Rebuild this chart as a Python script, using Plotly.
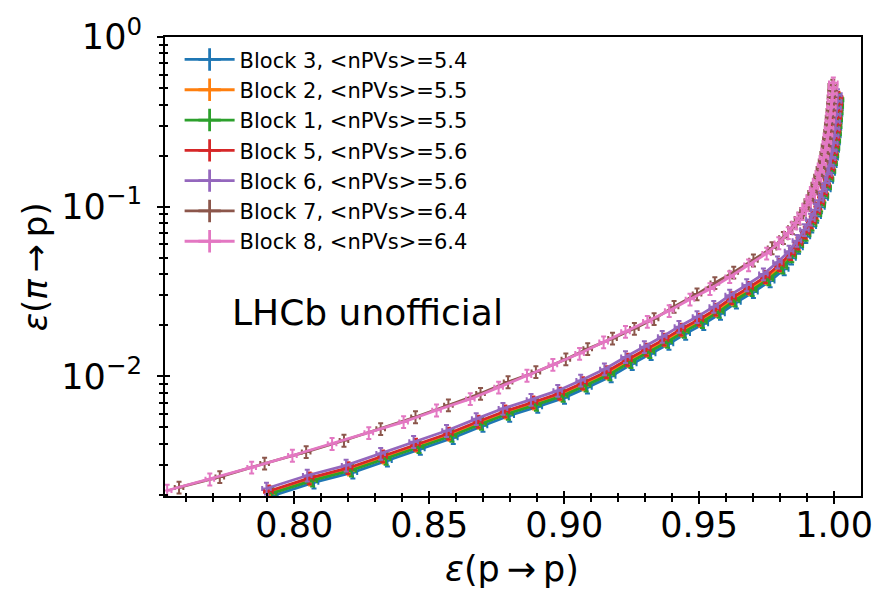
import plotly.graph_objects as go

# ---------------- data ----------------
names = ["Block 3, <nPVs>=5.4", "Block 2, <nPVs>=5.5", "Block 1, <nPVs>=5.5",
         "Block 5, <nPVs>=5.6", "Block 6, <nPVs>=5.6", "Block 7, <nPVs>=6.4",
         "Block 8, <nPVs>=6.4"]
colors = ["#1f77b4", "#ff7f0e", "#2ca02c", "#d62728", "#9467bd", "#8c564b", "#e377c2"]

# Block 3 (blue)
b3_x = [0.7922, 0.8073, 0.8217, 0.8345, 0.8467, 0.8589, 0.8699, 0.8798, 0.8902, 0.9001,
        0.9086, 0.9174, 0.9252, 0.9322, 0.9388, 0.9450, 0.9517, 0.9579, 0.9638, 0.9701,
        0.9763, 0.9815, 0.9842, 0.9868, 0.9895, 0.9917, 0.9935, 0.9949, 0.9961, 0.9971,
        0.9980, 0.9987, 0.9993, 0.9998, 1.0002, 1.0005, 1.0008, 1.0010, 1.0012, 1.0014,
        1.0016, 1.0017]
b3_y = [0.00198, 0.00237, 0.00271, 0.00319, 0.00374, 0.00434, 0.00511, 0.00587, 0.00662, 0.00748,
        0.00860, 0.01001, 0.01183, 0.01356, 0.01556, 0.01784, 0.02038, 0.02339, 0.02730, 0.03140,
        0.03640, 0.0428, 0.0496, 0.0573, 0.0664, 0.0764, 0.0874, 0.0992, 0.1119, 0.1256,
        0.1411, 0.1574, 0.1747, 0.1938, 0.2148, 0.2375, 0.2621, 0.2885, 0.3167, 0.3476,
        0.3804, 0.4150]

# Block 2 (orange)
b2_x = [0.7910, 0.8061, 0.8205, 0.8333, 0.8455, 0.8577, 0.8687, 0.8786, 0.8890, 0.8989,
        0.9074, 0.9162, 0.9240, 0.9310, 0.9376, 0.9438, 0.9505, 0.9567, 0.9626, 0.9689,
        0.9751, 0.9803, 0.9840, 0.9867, 0.9894, 0.9916, 0.9934, 0.9948, 0.9960, 0.9970,
        0.9979, 0.9986, 0.9992, 0.9997, 1.0001, 1.0004, 1.0007, 1.0009, 1.0011, 1.0013,
        1.0015, 1.0016]
b2_y = [0.00207, 0.00247, 0.00283, 0.00333, 0.00390, 0.00453, 0.00533, 0.00613, 0.00692, 0.00781,
        0.00898, 0.01045, 0.01235, 0.01416, 0.01625, 0.01862, 0.02128, 0.02442, 0.02850, 0.03278,
        0.03800, 0.0447, 0.0518, 0.0599, 0.0694, 0.0798, 0.0912, 0.1036, 0.1169, 0.1311,
        0.1473, 0.1644, 0.1824, 0.2024, 0.2242, 0.2480, 0.2736, 0.3012, 0.3306, 0.3629,
        0.3971, 0.4332]

# Block 1 (green)
b1_x = [0.7917, 0.8068, 0.8212, 0.8340, 0.8462, 0.8584, 0.8694, 0.8793, 0.8897, 0.8996,
        0.9081, 0.9169, 0.9247, 0.9317, 0.9383, 0.9445, 0.9512, 0.9574, 0.9633, 0.9696,
        0.9758, 0.9810, 0.9843, 0.9869, 0.9896, 0.9918, 0.9936, 0.9950, 0.9962, 0.9972,
        0.9981, 0.9988, 0.9994, 0.9999, 1.0003, 1.0006, 1.0009, 1.0011, 1.0013, 1.0015,
        1.0017, 1.0018]
b1_y = [0.00204, 0.00243, 0.00279, 0.00327, 0.00384, 0.00446, 0.00525, 0.00603, 0.00681, 0.00769,
        0.00884, 0.01029, 0.01216, 0.01393, 0.01599, 0.01833, 0.02094, 0.02403, 0.02805, 0.03226,
        0.03740, 0.0439, 0.0510, 0.0589, 0.0683, 0.0785, 0.0898, 0.1019, 0.1150, 0.1290,
        0.1449, 0.1618, 0.1795, 0.1992, 0.2207, 0.2440, 0.2693, 0.2964, 0.3254, 0.3572,
        0.3908, 0.4264]

# Block 5 (red)
b5_x = [0.7904, 0.8055, 0.8199, 0.8327, 0.8449, 0.8571, 0.8681, 0.8780, 0.8884, 0.8983,
        0.9068, 0.9156, 0.9234, 0.9304, 0.9370, 0.9432, 0.9499, 0.9561, 0.9620, 0.9683,
        0.9745, 0.9797, 0.9838, 0.9866, 0.9893, 0.9915, 0.9932, 0.9946, 0.9958, 0.9968,
        0.9977, 0.9984, 0.9990, 0.9995, 0.9999, 1.0002, 1.0005, 1.0007, 1.0009, 1.0011,
        1.0013, 1.0014]
b5_y = [0.00210, 0.00251, 0.00288, 0.00338, 0.00397, 0.00460, 0.00541, 0.00622, 0.00703, 0.00793,
        0.00912, 0.01062, 0.01255, 0.01438, 0.01650, 0.01891, 0.02162, 0.02480, 0.02895, 0.03329,
        0.03860, 0.0454, 0.0526, 0.0608, 0.0704, 0.0811, 0.0926, 0.1052, 0.1187, 0.1332,
        0.1496, 0.1669, 0.1853, 0.2055, 0.2277, 0.2519, 0.2779, 0.3059, 0.3358, 0.3686,
        0.4034, 0.4400]

# Block 6 (purple)
b6_x = [0.7897, 0.8048, 0.8192, 0.8320, 0.8442, 0.8564, 0.8674, 0.8773, 0.8877, 0.8976,
        0.9061, 0.9149, 0.9227, 0.9297, 0.9363, 0.9425, 0.9492, 0.9554, 0.9613, 0.9676,
        0.9738, 0.9790, 0.9833, 0.9862, 0.9890, 0.9912, 0.9930, 0.9944, 0.9956, 0.9966,
        0.9975, 0.9982, 0.9988, 0.9993, 0.9997, 1.0000, 1.0003, 1.0005, 1.0007, 1.0009,
        1.0011, 1.0012]
b6_y = [0.00218, 0.00260, 0.00298, 0.00350, 0.00411, 0.00477, 0.00561, 0.00645, 0.00728, 0.00822,
        0.00945, 0.01100, 0.01300, 0.01490, 0.01710, 0.01960, 0.02240, 0.02570, 0.03000, 0.03450,
        0.04000, 0.0470, 0.0545, 0.0630, 0.0730, 0.0840, 0.0960, 0.1090, 0.1230, 0.1380,
        0.1550, 0.1730, 0.1920, 0.2130, 0.2360, 0.2610, 0.2880, 0.3170, 0.3480, 0.3820,
        0.4180, 0.4560]

# Block 7 (brown)
b7_x = [0.7573, 0.7724, 0.7890, 0.8044, 0.8184, 0.8320, 0.8449, 0.8571, 0.8690, 0.8792,
        0.8895, 0.9006, 0.9087, 0.9179, 0.9260, 0.9333, 0.9407, 0.9492, 0.9558, 0.9628,
        0.9701, 0.9770, 0.9812, 0.9845, 0.9870, 0.9890, 0.9906, 0.9920, 0.9932, 0.9942,
        0.9951, 0.9959, 0.9965, 0.9970, 0.9975, 0.9979, 0.9982, 0.9985, 0.9988, 0.9990,
        0.9992, 0.9994, 0.9995]
b7_y = [0.00221, 0.00255, 0.00306, 0.00358, 0.00418, 0.00490, 0.00575, 0.00675, 0.00790, 0.00925,
        0.01060, 0.01260, 0.01450, 0.01670, 0.01910, 0.02180, 0.02570, 0.03050, 0.03550, 0.04100,
        0.04830, 0.0570, 0.0655, 0.0750, 0.0852, 0.0962, 0.1082, 0.1212, 0.1355, 0.1510,
        0.1675, 0.1855, 0.2055, 0.2275, 0.2515, 0.2775, 0.3055, 0.3360, 0.3690, 0.4045,
        0.4425, 0.4825, 0.5180]

# Block 8 (pink)
b8_x = [0.7529, 0.7687, 0.7842, 0.7993, 0.8140, 0.8276, 0.8405, 0.8527, 0.8652, 0.8757,
        0.8862, 0.8958, 0.9057, 0.9146, 0.9227, 0.9308, 0.9389, 0.9466, 0.9540, 0.9613,
        0.9683, 0.9750, 0.9795, 0.9830, 0.9858, 0.9880, 0.9898, 0.9913, 0.9926, 0.9937,
        0.9947, 0.9955, 0.9962, 0.9968, 0.9973, 0.9977, 0.9981, 0.9984, 0.9987, 0.9990,
        0.9992, 0.9994, 0.9996, 0.9997]
b8_y = [0.00212, 0.00247, 0.00290, 0.00341, 0.00400, 0.00464, 0.00538, 0.00630, 0.00735, 0.00860,
        0.01010, 0.01170, 0.01360, 0.01590, 0.01830, 0.02100, 0.02430, 0.02840, 0.03270, 0.03850,
        0.04520, 0.0530, 0.0610, 0.0700, 0.0800, 0.0905, 0.1020, 0.1145, 0.1280, 0.1430,
        0.1590, 0.1760, 0.1950, 0.2160, 0.2390, 0.2640, 0.2910, 0.3200, 0.3520, 0.3860,
        0.4230, 0.4620, 0.5030, 0.5350]

series_x = [b3_x, b2_x, b1_x, b5_x, b6_x, b7_x, b8_x]
series_y = [b3_y, b2_y, b1_y, b5_y, b6_y, b7_y, b8_y]

err_x_abs = 0.0016      # horizontal uncertainty
err_y_pct = 8           # vertical uncertainty, percent

x_ticks = [0.80, 0.85, 0.90, 0.95, 1.00]
x_ticklabels = ["0.80", "0.85", "0.90", "0.95", "1.00"]
y_ticks = [0.01, 0.1, 1.0]
y_ticklabels = ["10<sup>\u22122</sup>", "10<sup>\u22121</sup>", "10<sup>0</sup>"]
y_minor = [0.002, 0.003, 0.004, 0.005, 0.006, 0.007, 0.008, 0.009,
           0.02, 0.03, 0.04, 0.05, 0.06, 0.07, 0.08, 0.09,
           0.2, 0.3, 0.4, 0.5, 0.6, 0.7, 0.8, 0.9]

x_range = [0.7521, 1.00995]
y_range_log = [-2.706, 0.0]

FONT = "DejaVu Sans"

fig = go.Figure()

# data traces
for xs, ys, c, n in zip(series_x, series_y, colors, names):
    fig.add_trace(go.Scatter(
        x=xs, y=ys, mode="lines", name=n, showlegend=False,
        line=dict(color=c, width=2.8),
        error_x=dict(type="constant", value=err_x_abs, color=c, thickness=2, width=2.5),
        error_y=dict(type="percent", value=err_y_pct, color=c, thickness=2, width=2.5),
    ))

# legend entries
for i, (c, n) in enumerate(zip(colors, names)):
    fig.add_trace(go.Scatter(
        x=[None], y=[None], mode="lines+markers", name=n, legendgroup=f"g{i}",
        line=dict(color=c, width=2.8),
        marker=dict(symbol="cross-thin", size=16, color=c, line=dict(color=c, width=2.8)),
    ))

# carrier for the overlay axes (inner tick marks)
fig.add_trace(go.Scatter(x=[None], y=[None], xaxis="x2", yaxis="y2",
                         showlegend=False, hoverinfo="skip"))

fig.update_layout(
    width=885, height=590,
    margin=dict(l=165, r=20, t=32, b=94),
    paper_bgcolor="white", plot_bgcolor="white",
    font=dict(family=FONT, color="black"),
    showlegend=True,
    legend=dict(x=0.021, y=0.995, xanchor="left", yanchor="top",
                bgcolor="rgba(0,0,0,0)", borderwidth=0,
                font=dict(family=FONT, size=21, color="black"),
                tracegroupgap=0, itemwidth=50),
    xaxis=dict(range=x_range, showgrid=False, zeroline=False,
               showline=True, linecolor="black", linewidth=2, mirror=True,
               tickmode="array", tickvals=x_ticks, ticktext=x_ticklabels,
               ticks="outside", ticklen=6, tickwidth=2, tickcolor="black",
               tickfont=dict(family=FONT, size=35, color="black"),
               ticklabelstandoff=-9,
               minor=dict(ticks="outside", ticklen=4, tickwidth=1.6, tickcolor="black",
                          dtick=0.01, tick0=0.75, showgrid=False)),
    yaxis=dict(type="log", range=y_range_log, showgrid=False, zeroline=False,
               showline=True, linecolor="black", linewidth=2, mirror=True,
               tickmode="array", tickvals=y_ticks, ticktext=y_ticklabels,
               ticks="outside", ticklen=6, tickwidth=2, tickcolor="black",
               tickfont=dict(family=FONT, size=35, color="black"),
               ticklabelstandoff=8,
               minor=dict(ticks="outside", ticklen=4, tickwidth=1.6, tickcolor="black",
                          tickmode="array", tickvals=y_minor, showgrid=False)),
    xaxis2=dict(overlaying="x", anchor="y2", side="bottom", range=x_range,
                showgrid=False, zeroline=False, showline=False, showticklabels=False,
                tickmode="array", tickvals=x_ticks,
                ticks="inside", ticklen=5, tickwidth=2, tickcolor="black",
                minor=dict(ticks="inside", ticklen=3, tickwidth=1.6, tickcolor="black",
                           dtick=0.01, tick0=0.75, showgrid=False)),
    yaxis2=dict(overlaying="y", anchor="x2", side="left", type="log", range=y_range_log,
                showgrid=False, zeroline=False, showline=False, showticklabels=False,
                tickmode="array", tickvals=y_ticks,
                ticks="inside", ticklen=5, tickwidth=2, tickcolor="black",
                minor=dict(ticks="inside", ticklen=3, tickwidth=1.6, tickcolor="black",
                           tickmode="array", tickvals=y_minor, showgrid=False)),
)

# axis titles and label
fig.add_annotation(text="<i>\u03b5</i>(p\u2009\u2192\u2009p)", xref="paper", yref="paper",
                   x=0.4986, y=-0.158, xanchor="center", yanchor="middle",
                   showarrow=False, font=dict(family=FONT, size=35, color="black"))
fig.add_annotation(text="<i>\u03b5</i>(<i>\u03c0</i>\u2009\u2192\u2009p)", xref="paper", yref="paper",
                   x=-0.187, y=0.5, xanchor="center", yanchor="middle", textangle=-90,
                   showarrow=False, font=dict(family=FONT, size=34, color="black"))
fig.add_annotation(text="LHCb unofficial", xref="paper", yref="paper",
                   x=0.093, y=0.399, xanchor="left", yanchor="middle",
                   showarrow=False, font=dict(family=FONT, size=36, color="black"))

fig.write_html("out.html")
